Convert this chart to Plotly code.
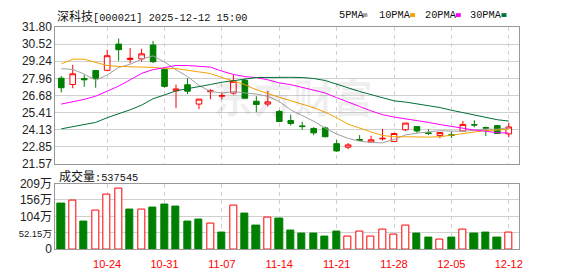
import plotly.graph_objects as go

# ---------------- data ----------------
dates = ["10-20", "10-21", "10-22", "10-23", "10-24",
         "10-27", "10-28", "10-29", "10-30", "10-31",
         "11-03", "11-04", "11-05", "11-06", "11-07",
         "11-10", "11-11", "11-12", "11-13", "11-14",
         "11-17", "11-18", "11-19", "11-20", "11-21",
         "11-24", "11-25", "11-26", "11-27", "11-28",
         "12-01", "12-02", "12-03", "12-04", "12-05",
         "12-08", "12-09", "12-10", "12-11", "12-12"]

opens = [27.97, 27.50, 27.95, 28.54, 28.56, 30.52, 29.37, 29.41, 30.45, 28.63,
         27.03, 27.48, 26.04, 26.96, 26.63, 26.86, 27.81, 26.25, 26.04, 25.49,
         24.81, 24.41, 24.22, 24.26, 23.08, 22.82, 23.39, 23.20, 23.44, 23.25,
         24.12, 24.36, 23.89, 23.70, 23.74, 24.03, 24.50, 24.29, 24.43, 23.81]
highs = [28.14, 28.97, 28.21, 28.56, 30.10, 30.93, 30.22, 30.17, 30.76, 28.66,
         27.50, 27.97, 26.41, 27.15, 26.91, 28.21, 27.97, 26.63, 27.03, 25.61,
         25.26, 24.71, 24.31, 24.36, 23.37, 23.13, 23.72, 23.67, 24.19, 23.89,
         24.62, 24.36, 24.15, 23.91, 24.00, 24.78, 24.83, 24.36, 24.45, 24.64]
lows = [26.91, 27.22, 27.33, 27.26, 28.49, 29.27, 29.08, 29.20, 29.11, 27.26,
        25.73, 26.79, 25.66, 26.39, 26.39, 26.74, 26.44, 25.44, 25.85, 24.70,
        24.43, 24.12, 23.72, 23.56, 22.47, 22.66, 23.32, 23.18, 23.32, 23.22,
        24.03, 23.89, 23.72, 23.48, 23.51, 23.96, 24.31, 23.65, 23.82, 23.55]
closes = [27.26, 28.30, 27.85, 27.97, 29.65, 30.10, 29.46, 29.79, 29.20, 27.36,
          27.17, 27.00, 26.41, 27.03, 26.67, 27.74, 26.48, 26.01, 26.20, 24.74,
          24.59, 24.36, 23.89, 23.60, 22.54, 22.99, 23.34, 23.37, 23.48, 23.84,
          24.62, 24.03, 23.84, 23.91, 23.70, 24.52, 24.48, 24.24, 23.84, 24.33]

ma5 = [28.68, 28.63, 28.28, 27.81, 28.21, 28.77, 29.01, 29.39, 29.64, 29.18,
       28.60, 28.10, 27.43, 26.99, 26.86, 26.97, 26.87, 26.79, 26.62, 26.23,
       25.60, 25.18, 24.76, 24.24, 23.80, 23.48, 23.27, 23.17, 23.14, 23.40,
       23.73, 23.87, 23.96, 24.05, 24.02, 24.00, 24.09, 24.17, 24.16, 24.28]
ma10 = [29.04, 29.39, 29.39, 29.15, 28.92, 28.85, 28.80, 28.80, 28.78, 28.69,
        28.69, 28.56, 28.41, 28.32, 28.02, 27.78, 27.49, 27.11, 26.81, 26.55,
        26.29, 26.02, 25.77, 25.43, 25.02, 24.54, 24.23, 23.96, 23.69, 23.60,
        23.60, 23.57, 23.57, 23.60, 23.71, 23.87, 23.98, 24.07, 24.10, 24.15]
ma20 = [26.04, 26.20, 26.39, 26.63, 27.03, 27.38, 27.85, 28.33, 28.61, 28.75,
        28.92, 28.92, 28.87, 28.80, 28.50, 28.25, 28.09, 28.02, 27.85, 27.62,
        27.49, 27.29, 27.09, 26.87, 26.52, 26.16, 25.86, 25.53, 25.25, 25.07,
        24.95, 24.80, 24.67, 24.51, 24.36, 24.20, 24.10, 24.01, 23.90, 23.88]
ma30 = [24.19, 24.36, 24.50, 24.67, 25.02, 25.30, 25.61, 25.96, 26.44, 26.72,
        27.03, 27.19, 27.33, 27.50, 27.67, 27.81, 27.90, 28.02, 28.04, 28.04,
        28.04, 28.02, 27.95, 27.80, 27.55, 27.25, 26.98, 26.74, 26.50, 26.28,
        26.19, 26.05, 25.92, 25.78, 25.58, 25.40, 25.23, 25.05, 24.87, 24.77]

# volume in 万 (10k shares); direction: 1 = up vs previous close (red), 0 = down (green)
volume = [145, 153, 88, 123, 174, 192, 127, 126, 133, 142,
          136, 88, 94, 81, 54, 138, 112, 76, 99, 97,
          60, 48, 48, 39, 57, 41, 56, 41, 62, 47,
          75, 48, 36, 29, 36, 62, 48, 54, 36, 53.7545]
vol_dir = [0, 1, 0, 1, 1, 1, 0, 1, 0, 0,
           0, 0, 0, 1, 0, 1, 0, 0, 1, 0,
           0, 0, 0, 0, 0, 1, 1, 1, 1, 1,
           1, 0, 0, 1, 0, 1, 0, 0, 0, 1]

price_ticks = [21.57, 22.85, 24.13, 25.41, 26.68, 27.96, 29.24, 30.52, 31.80]
vol_ticks = [0, 52.15, 104.3, 156.45, 208.6]
vol_ticktext = ["0", "<span style='font-size:9.5px'>52.15万</span>", "104万", "156万", "209万"]
date_ticks = ["10-24", "10-31", "11-07", "11-14", "11-21", "11-28", "12-05", "12-12"]
ma_names = ["5PMA", "10PMA", "20PMA", "30PMA"]

# ---------------- style ----------------
W, H = 578, 276
RED = "#ff0000"
GREEN = "#008000"
MA_COLORS = ["#a0a0a0", "#f5a300", "#ff00ff", "#006f36"]
GRID = "#d0d0d0"
BORDER = "#999999"
LEFT, RIGHT = 55.7, 522.3
N = len(dates)
step = (512.3 - 61.7) / (N - 1)
xr = [-(61.7 - LEFT) / step, (N - 1) + (RIGHT - 512.3) / step]


def px(x):
    return x / W


def py(y):
    return 1 - y / H


fig = go.Figure()

fig.add_trace(go.Candlestick(
    x=dates, open=opens, high=highs, low=lows, close=closes,
    increasing=dict(line=dict(color=RED, width=1), fillcolor="white"),
    decreasing=dict(line=dict(color=GREEN, width=1), fillcolor=GREEN),
    whiskerwidth=0, xaxis="x", yaxis="y", showlegend=False, hoverinfo="skip"))

for vals, col in zip([ma5, ma10, ma20, ma30], MA_COLORS):
    fig.add_trace(go.Scatter(x=dates, y=vals, mode="lines",
                             line=dict(color=col, width=1),
                             xaxis="x", yaxis="y", showlegend=False, hoverinfo="skip"))

fill_cols = [("white" if d else GREEN) for d in vol_dir]
line_cols = [(RED if d else GREEN) for d in vol_dir]
fig.add_trace(go.Bar(x=dates, y=volume, width=0.62,
                     marker=dict(color=fill_cols, line=dict(color=line_cols, width=1)),
                     xaxis="x2", yaxis="y2", showlegend=False, hoverinfo="skip"))

xdom = [px(LEFT), px(RIGHT)]
common_x = dict(type="category", categoryorder="array", categoryarray=dates,
                range=xr, domain=xdom, tickvals=date_ticks, ticktext=date_ticks,
                showgrid=True, gridcolor=GRID, griddash="4px,4px", gridwidth=1,
                showline=True, linecolor=BORDER, linewidth=1, mirror=True,
                ticks="", zeroline=False, fixedrange=True)

fig.update_layout(
    width=W, height=H,
    margin=dict(l=0, r=0, t=0, b=0),
    paper_bgcolor="white", plot_bgcolor="white",
    bargap=0,
    xaxis=dict(**common_x, anchor="y", showticklabels=False,
               rangeslider=dict(visible=False)),
    xaxis2=dict(**common_x, anchor="y2", showticklabels=True, ticklabelstandoff=5,
                tickfont=dict(family="Liberation Sans, Arial", size=11, color=RED)),
    yaxis=dict(domain=[py(165.3), py(21)], range=[21.57, 31.80],
               tickvals=price_ticks, ticktext=[f"{v:.2f}" for v in price_ticks],
               showgrid=True, gridcolor=GRID, gridwidth=1,
               showline=True, linecolor=BORDER, linewidth=1, mirror=True,
               ticks="", zeroline=False, fixedrange=True,
               tickfont=dict(family="Liberation Sans, Arial", size=12, color="#222222")),
    yaxis2=dict(domain=[py(255), py(186)], range=[0, 208.6],
                tickvals=vol_ticks, ticktext=vol_ticktext,
                showgrid=True, gridcolor=GRID, gridwidth=1,
                showline=True, linecolor=BORDER, linewidth=1, mirror=True,
                ticks="", zeroline=False, fixedrange=True,
                tickfont=dict(family="Liberation Sans, Noto Sans CJK SC", size=12, color="#222222")),
)

annotations = []
# watermark
annotations.append(dict(xref="paper", yref="paper", x=px(295), y=py(94),
                        text="<b>东方财富</b>", showarrow=False,
                        font=dict(family="Noto Sans CJK SC", size=40, color="rgba(0,0,0,0.06)")))
# title
annotations.append(dict(xref="paper", yref="paper", x=px(55), y=py(8.5), xanchor="left", yanchor="middle",
                        text="<span style='font-family:Noto Sans CJK SC;font-size:12px'>深科技</span>"
                             "<span style='font-family:Liberation Mono;font-size:10.3px'>[000021] 2025-12-12 15:00</span>",
                        showarrow=False, font=dict(color="#111111", size=12)))
# volume label
annotations.append(dict(xref="paper", yref="paper", x=px(57.5), y=py(178), xanchor="left", yanchor="middle",
                        text="<span style='font-family:Noto Sans CJK SC;font-size:12px'>成交量</span>"
                             "<span style='font-family:Liberation Mono;font-size:10.3px'>:537545</span>",
                        showarrow=False, font=dict(color="#111111", size=12)))
# MA legend
leg_x = [339, 380, 425.7, 471.7]
sq_x = [365, 413, 459, 505]
shapes = []
for name, lx, sx, col in zip(ma_names, leg_x, sq_x, MA_COLORS):
    annotations.append(dict(xref="paper", yref="paper", x=px(lx), y=py(8.5), xanchor="left", yanchor="middle",
                            text=name, showarrow=False,
                            font=dict(family="Liberation Mono", size=10.3, color="#111111")))
    shapes.append(dict(type="rect", xref="paper", yref="paper",
                       x0=px(sx), x1=px(sx + 5), y0=py(10.5), y1=py(6.5),
                       fillcolor=col, line=dict(width=0)))

fig.update_layout(annotations=annotations, shapes=shapes)

fig.write_html("out.html")
